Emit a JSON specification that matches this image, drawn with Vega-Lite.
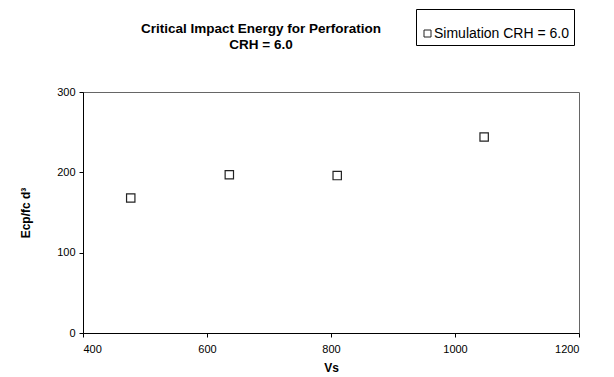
{
  "$schema": "https://vega.github.io/schema/vega-lite/v6.json",
  "autosize": {"type": "none"},
  "width": 496,
  "height": 241,
  "padding": {"left": 83, "top": 92, "right": 35, "bottom": 44},
  "background": "white",
  "config": {
    "font": "Liberation Sans",
    "view": {"stroke": "#666666", "strokeWidth": 1},
    "axis": {
      "grid": false,
      "domainColor": "black",
      "tickColor": "black",
      "labelColor": "black",
      "titleColor": "black",
      "labelFont": "Liberation Sans",
      "titleFont": "Liberation Sans",
      "labelFontSize": 11,
      "titleFontSize": 12,
      "titleFontWeight": "bold",
      "tickSize": 4
    }
  },
  "title": {
    "text": ["Critical Impact Energy for Perforation", "CRH = 6.0"],
    "font": "Liberation Sans",
    "fontSize": 13.5,
    "fontWeight": "bold",
    "color": "black",
    "anchor": "middle",
    "frame": "group",
    "dx": -70,
    "offset": -43,
    "lineHeight": 16
  },
  "data": {
    "values": [
      {"Vs": 477, "E": 168, "series": "Simulation CRH = 6.0"},
      {"Vs": 636, "E": 197, "series": "Simulation CRH = 6.0"},
      {"Vs": 810, "E": 196, "series": "Simulation CRH = 6.0"},
      {"Vs": 1047, "E": 244, "series": "Simulation CRH = 6.0"}
    ]
  },
  "mark": {"type": "point", "shape": "square", "filled": true, "fill": "white", "size": 70, "strokeWidth": 1.2, "opacity": 1},
  "encoding": {
    "x": {
      "field": "Vs",
      "type": "quantitative",
      "scale": {"domain": [400, 1200], "nice": false, "zero": false},
      "axis": {"values": [400, 600, 800, 1000, 1200], "format": "d", "title": "Vs", "labelPadding": 6, "titlePadding": 8}
    },
    "y": {
      "field": "E",
      "type": "quantitative",
      "scale": {"domain": [0, 300], "nice": false},
      "axis": {"values": [0, 100, 200, 300], "format": "d", "title": "Ecp/fc d³", "labelPadding": 4, "titlePadding": 24}
    },
    "stroke": {
      "field": "series",
      "type": "nominal",
      "scale": {"range": ["#222222"]},
      "legend": {
        "title": null,
        "orient": "none",
        "legendX": 333,
        "legendY": -83,
        "strokeColor": "black",
        "fillColor": "white",
        "padding": 4,
        "symbolType": "M-0.825,-0.175H-0.475V0.175H-0.825Z",
        "symbolSize": 1600,
        "symbolFillColor": "white",
        "symbolStrokeColor": "black",
        "symbolStrokeWidth": 1,
        "labelFont": "Liberation Sans",
        "labelFontSize": 14,
        "labelColor": "black",
        "labelOffset": -27
      }
    }
  }
}
